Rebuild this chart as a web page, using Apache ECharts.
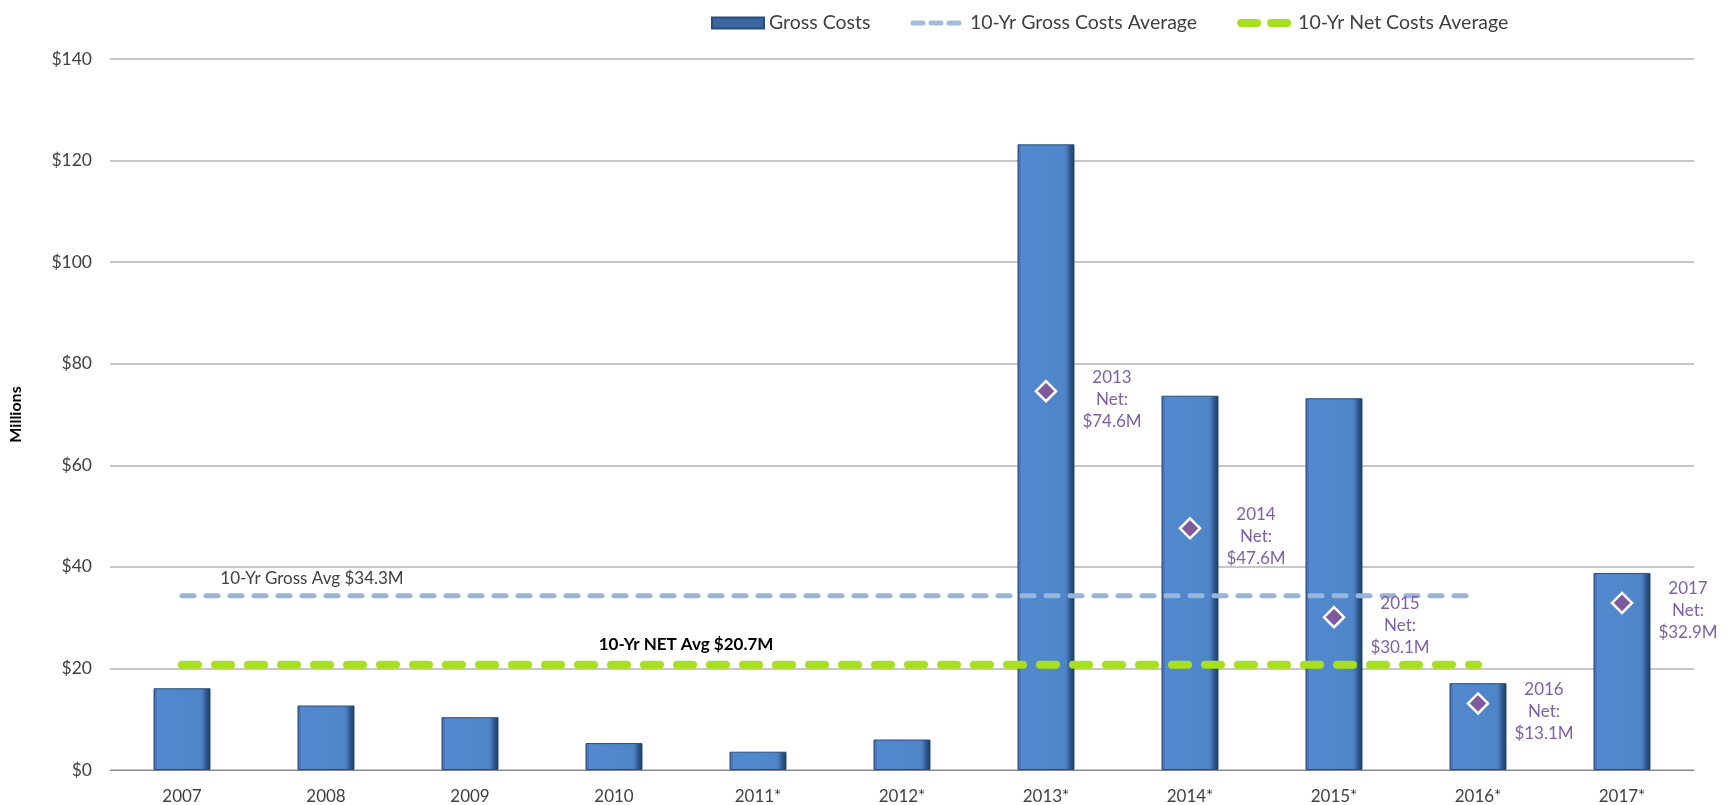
<!DOCTYPE html>
<html>
<head>
<meta charset="utf-8">
<script src="https://cdn.jsdelivr.net/npm/echarts@6/dist/echarts.min.js"></script>
<style>
html,body{margin:0;padding:0;background:#fff;}
#chart{width:1736px;height:805px;}
</style>
</head>
<body>
<div id="chart"></div>
<script>
var categories = ['2007','2008','2009','2010','2011*','2012*','2013*','2014*','2015*','2016*','2017*'];
var grossCosts = [16.1, 12.7, 10.4, 5.3, 3.6, 6.0, 123.2, 73.7, 73.2, 17.1, 38.8];
var grossAvg = [34.3, 34.3, 34.3, 34.3, 34.3, 34.3, 34.3, 34.3, 34.3, 34.3, null];
var netAvg = [20.7, 20.7, 20.7, 20.7, 20.7, 20.7, 20.7, 20.7, 20.7, 20.7, null];
var netCosts = [null, null, null, null, null, null, 74.6, 47.6, 30.1, 13.1, 32.9];
var yTicks = [0, 20, 40, 60, 80, 100, 120, 140];

var FONT = 'Lato';
var chart = echarts.init(document.getElementById('chart'));

var barColor = new echarts.graphic.LinearGradient(0, 0, 1, 0, [
  {offset: 0, color: '#355F93'},
  {offset: 0.07, color: '#5289CF'},
  {offset: 0.84, color: '#4F85C8'},
  {offset: 0.93, color: '#2E5889'},
  {offset: 1, color: '#1B3353'}
]);

function avgLabelPoint(arr, idx, text, dist, dx, bold) {
  return {
    symbol: 'rect',
    symbolSize: 1,
    data: [{
      coord: [categories[idx], arr[idx]],
      itemStyle: {color: 'rgba(0,0,0,0)'},
      label: {
        show: true, position: 'top', distance: dist, offset: [dx, 0],
        formatter: text, color: bold ? '#000' : '#404040',
        fontWeight: bold ? 'bold' : 'normal', fontFamily: FONT, fontSize: 17
      }
    }]
  };
}

chart.setOption({
  animation: false,
  textStyle: {fontFamily: FONT},
  legend: {
    top: 8,
    left: 706,
    itemWidth: 52,
    itemHeight: 11,
    itemGap: 40,
    textStyle: {fontFamily: FONT, fontSize: 19.5, color: '#404040'},
    data: [
      {name: 'Gross Costs', icon: 'rect', itemStyle: {color: '#3A67A0'}},
      {name: '10-Yr Gross Costs Average', itemStyle: {opacity: 0},
        lineStyle: {width: 5, type: [10, 8], cap: 'round', color: '#A5BCD9', opacity: 1}},
      {name: '10-Yr Net Costs Average', itemStyle: {opacity: 0},
        lineStyle: {width: 8, type: [16, 14], cap: 'round', color: '#A8E01E', opacity: 1}}
    ]
  },
  grid: {left: 107, right: 42, top: 59, bottom: 34, containLabel: false},
  xAxis: {
    type: 'category',
    data: categories,
    axisLine: {lineStyle: {color: '#868686', width: 1}},
    axisTick: {show: false},
    axisLabel: {color: '#404040', fontFamily: FONT, fontSize: 17, margin: 18}
  },
  yAxis: {
    type: 'value',
    min: 0,
    max: 140,
    interval: 20,
    name: 'Millions',
    nameLocation: 'middle',
    nameGap: 86,
    nameTextStyle: {fontFamily: FONT, fontSize: 16, fontWeight: 'bold', color: '#000'},
    axisLine: {show: false},
    axisTick: {show: false},
    splitLine: {lineStyle: {color: '#B4B4B4', width: 1.5}},
    axisLabel: {color: '#404040', fontFamily: FONT, fontSize: 17.5, margin: 18,
      formatter: function (v) { return yTicks.indexOf(v) >= 0 ? '$' + v : ''; }}
  },
  series: [
    {
      name: 'Gross Costs',
      type: 'bar',
      data: grossCosts,
      barWidth: 57,
      itemStyle: {color: barColor, borderColor: '#2A4E7C', borderWidth: 1}
    },
    {
      name: '10-Yr Gross Costs Average',
      type: 'line',
      data: grossAvg,
      symbol: 'none',
      z: 3,
      lineStyle: {color: '#97B5DB', width: 5, type: [12, 12], cap: 'round'},
      itemStyle: {color: '#97B5DB'},
      markPoint: avgLabelPoint(grossAvg, 1, '10-Yr Gross Avg $34.3M', 8, -14, false)
    },
    {
      name: '10-Yr Net Costs Average',
      type: 'line',
      data: netAvg,
      symbol: 'none',
      z: 3,
      lineStyle: {color: '#A8E01E', width: 8, type: [16, 17], cap: 'round'},
      itemStyle: {color: '#A8E01E'},
      markPoint: avgLabelPoint(netAvg, 3, '10-Yr NET Avg $20.7M', 11, 72, true)
    },
    {
      name: 'Net Costs',
      type: 'scatter',
      data: netCosts,
      symbol: 'diamond',
      symbolSize: 20,
      z: 5,
      itemStyle: {color: '#7D5A9B', borderColor: '#FFFFFF', borderWidth: 2.5, opacity: 1},
      label: {
        show: true,
        position: 'inside',
        offset: [66, 8],
        align: 'center',
        verticalAlign: 'middle',
        lineHeight: 22,
        color: '#7F5FA8',
        fontFamily: FONT,
        fontSize: 17,
        formatter: function (p) {
          return p.name.replace('*', '') + '\nNet:\n$' + p.value + 'M';
        }
      }
    }
  ]
});
</script>
</body>
</html>
